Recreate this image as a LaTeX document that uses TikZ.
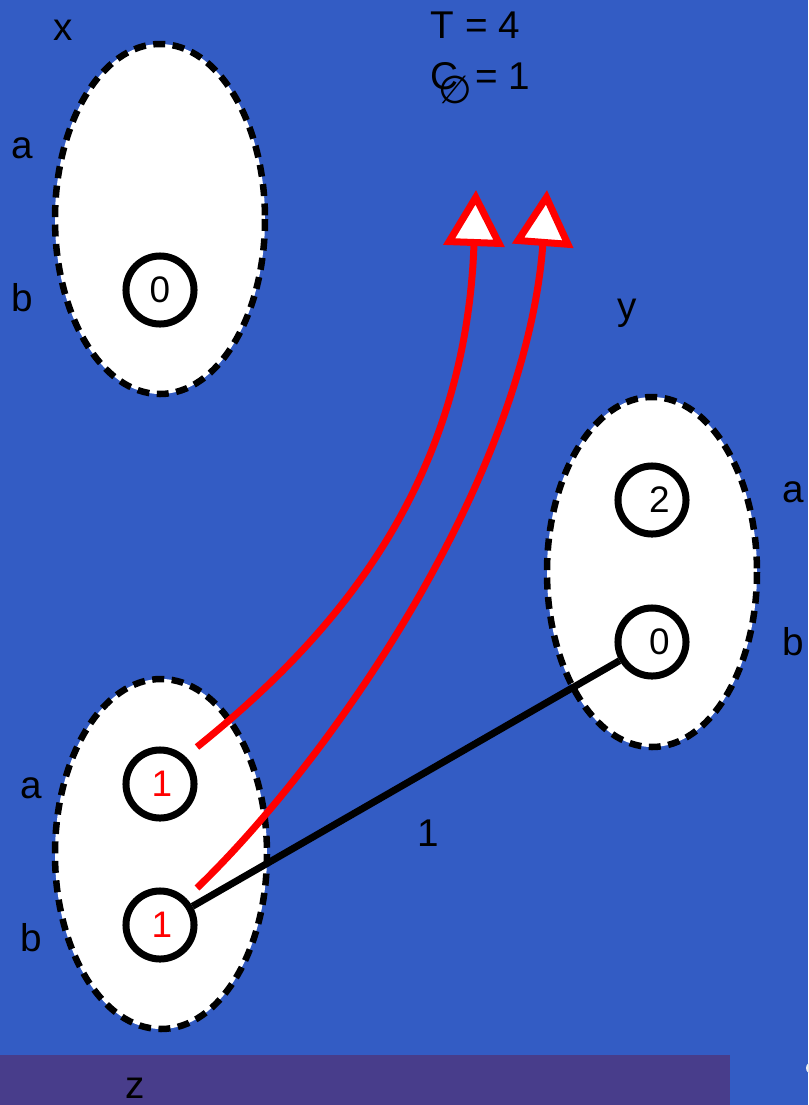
\documentclass[tikz,border=0pt]{standalone}
\usepackage{fontspec}
\setmainfont{Liberation Sans}
\newfontfamily\symfont{DejaVu Sans}
\usetikzlibrary{arrows.meta}
\definecolor{bgblue}{RGB}{51,92,196}
\definecolor{barpurple}{RGB}{72,61,139}
\begin{document}
\begin{tikzpicture}[x=0.01cm,y=-0.01cm,
  setshape/.style={draw=black,fill=white,line width=0.065cm,dash pattern=on 0.12cm off 0.075cm},
  state/.style={circle,draw=black,fill=white,line width=0.07cm,minimum size=0.68cm,inner sep=0pt,font=\fontsize{10.5}{12}\selectfont},
  lbl/.style={font=\fontsize{11}{13}\selectfont,text=black,inner sep=0pt},
  redarrow/.style={draw=red,line width=0.07cm,-{Triangle[length=0.56cm,width=0.6cm,fill=white]}},
  blackedge/.style={draw=black,line width=0.07cm}]
\fill[bgblue] (0,0) rectangle (808,1105);
\useasboundingbox (0,0) rectangle (808,1105);
\fill[barpurple] (0,1055) rectangle (730,1105);
\fill[white!85!gray] (812,1068) circle (6);
% sets
\draw[setshape] (160,219) ellipse [x radius=105, y radius=175];
\draw[setshape] (652,572) ellipse [x radius=105, y radius=175];
\draw[setshape] (161,854) ellipse [x radius=106, y radius=175];
% states
\node[state] (xb) at (160,290) {0};
\node[state] (ya) at (652,500) {\hspace{0.15cm}2};
\node[state] (yb) at (652,642) {\hspace{0.15cm}0};
\node[state,text=red] (za) at (160,784) {\hspace{0.04cm}1};
\node[state,text=red] (zb) at (160,925) {\hspace{0.04cm}1};
% coordinates for red arrows
\coordinate (s1) at (197,747);
\coordinate (s2) at (197,888);
\coordinate (t1) at (476,190);
\coordinate (t2) at (547,190);
\draw[redarrow] (s1) .. controls (330,640) and (465,490) .. (t1);
\draw[redarrow] (s2) .. controls (330,760) and (525,480) .. (t2);
\draw[blackedge] (zb) -- (yb);
\node[lbl] (w) at (428,833) {1};
% labels
\node[lbl] (lx) at (63,30) {x};
\node[lbl] (lxa) at (22,148) {a};
\node[lbl] (lxb) at (22,298) {b};
\node[lbl] (ly) at (627,313) {y};
\node[lbl] (lya) at (793,492) {a};
\node[lbl] (lyb) at (793,642) {b};
\node[lbl] (lza) at (31,788) {a};
\node[lbl] (lzb) at (31,938) {b};
\node[lbl] (lz) at (135,1088) {z};
\node[lbl,anchor=west] (T) at (430,25) {T = 4};
\node[lbl,anchor=west] (C) at (430,83) {C\raisebox{-0.14cm}{\symfont\fontsize{11}{12}\selectfont\kern-0.2cm∅}\kern0.03cm= 1};
\end{tikzpicture}
\end{document}
